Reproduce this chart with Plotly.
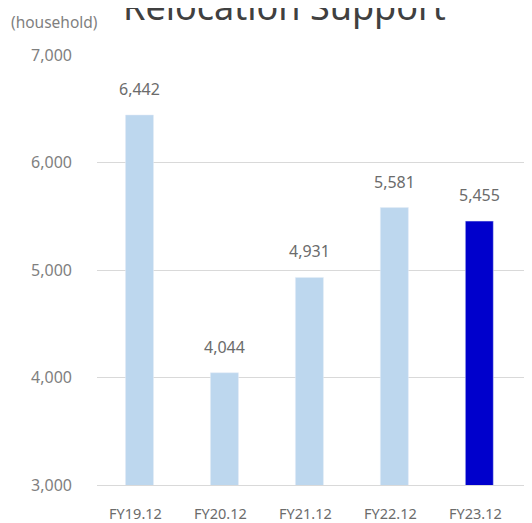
import plotly.graph_objects as go

categories = ["FY19.12", "FY20.12", "FY21.12", "FY22.12", "FY23.12"]
values = [6442, 4044, 4931, 5581, 5455]
colors = ["#BDD7EE", "#BDD7EE", "#BDD7EE", "#BDD7EE", "#0000CC"]

fig = go.Figure()
fig.add_trace(go.Bar(x=categories, y=values, marker_color=colors, width=0.33,
                     hoverinfo="skip"))

for c, v in zip(categories, values):
    fig.add_annotation(x=c, y=v, text=f"{v:,}", showarrow=False, yanchor="bottom",
                       yshift=13, font=dict(size=16, color="#6b6b6b"))

fig.add_annotation(xref="paper", yref="paper", x=0.43, y=1, yshift=22, xanchor="center",
                   yanchor="bottom", text="Relocation Support", showarrow=False,
                   font=dict(size=36, color="#404040"))
fig.add_annotation(xref="paper", yref="paper", x=0.0, y=1, yshift=33, xanchor="right",
                   xshift=3, yanchor="middle", text="(household)", showarrow=False,
                   font=dict(size=15.5, color="#7f7f7f"))

fig.update_layout(
    width=532, height=523,
    margin=dict(l=89, r=8, t=47, b=42),
    plot_bgcolor="white", paper_bgcolor="white",
    font=dict(family="Noto Sans, sans-serif", color="#595959"),
    showlegend=False,
    xaxis=dict(range=[-0.5, 4.62], showgrid=False, tickfont=dict(size=14.5, color="#6b6b6b"),
               showline=True, linecolor="#d9d9d9", linewidth=1, ticks="",
               ticklabelstandoff=16, ticklabelshift=-4),
    yaxis=dict(range=[3000, 7000], dtick=1000, tickformat=",", showgrid=True,
               gridcolor="#d9d9d9", zeroline=False, tickfont=dict(size=16, color="#7f7f7f"),
               ticks="", ticklabelstandoff=24),
)
fig.write_html("out.html")
